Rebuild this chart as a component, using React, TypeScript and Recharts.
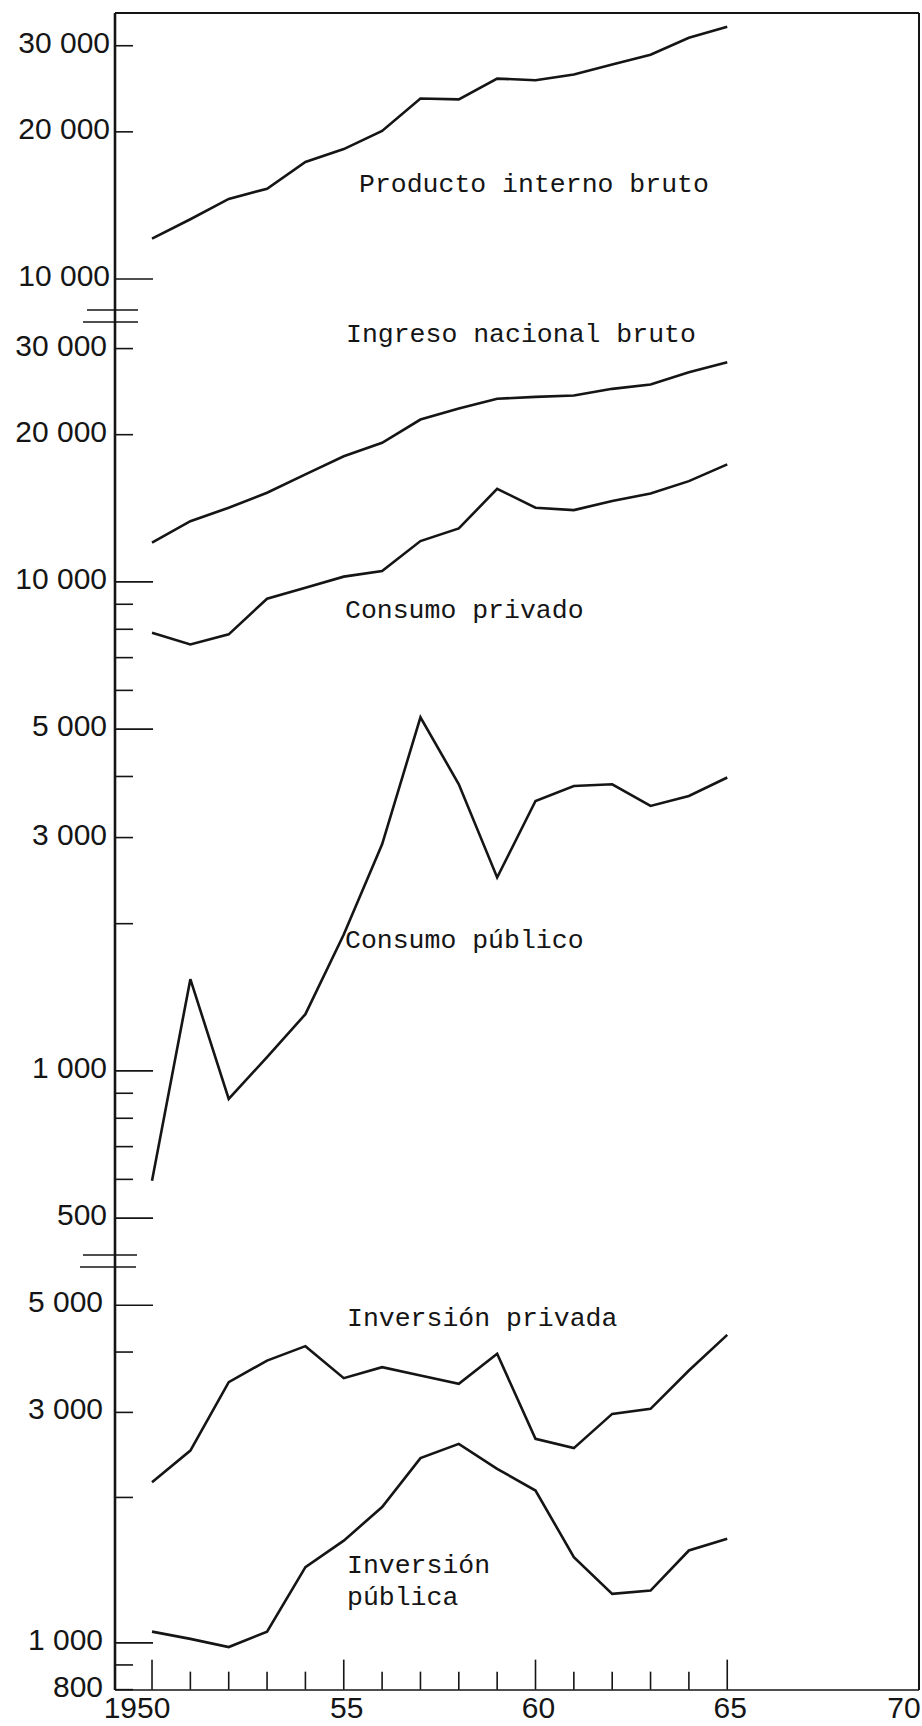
import { Line, LineChart, XAxis, YAxis } from 'recharts';

// years on the x axis
const YEARS = [1950, 1951, 1952, 1953, 1954, 1955, 1956, 1957, 1958, 1959, 1960, 1961, 1962, 1963, 1964, 1965];

// series (millones)
const PIB = [12100, 13250, 14580, 15300, 17350, 18440, 20090, 23400, 23300, 25700, 25500, 26200, 27450, 28760, 31150, 32800];
const INGRESO = [12030, 13310, 14180, 15220, 16590, 18070, 19250, 21480, 22620, 23680, 23900, 24050, 24820, 25330, 26840, 28130];
const CONSUMO_PRIVADO = [7870, 7450, 7810, 9240, 9730, 10250, 10520, 12120, 12860, 15500, 14180, 14020, 14630, 15160, 16070, 17390];
const CONSUMO_PUBLICO = [596, 1540, 876, 1067, 1306, 1900, 2907, 5285, 3856, 2486, 3565, 3826, 3856, 3482, 3650, 3980];
const INVERSION_PRIVADA = [2151, 2501, 3465, 3841, 4114, 3532, 3722, 3576, 3438, 3967, 2645, 2530, 2979, 3051, 3663, 4341];
const INVERSION_PUBLICA = [1055, 1019, 980, 1055, 1435, 1628, 1910, 2412, 2582, 2293, 2067, 1505, 1263, 1283, 1553, 1642];

// y ticks per panel
const TICKS_TOP = [10000, 20000, 30000];
const LABELS_TOP = [10000, 20000, 30000];
const TICKS_MID = [500, 600, 700, 800, 900, 1000, 2000, 3000, 4000, 5000, 6000, 7000, 8000, 9000, 10000, 20000, 30000];
const LABELS_MID = [500, 1000, 3000, 5000, 10000, 20000, 30000];
const TICKS_LOW = [800, 900, 1000, 2000, 3000, 4000, 5000];
const LABELS_LOW = [800, 1000, 3000, 5000];

// x ticks
const X_TICKS = [1950, 1951, 1952, 1953, 1954, 1955, 1956, 1957, 1958, 1959, 1960, 1961, 1962, 1963, 1964, 1965, 1970];
const X_LABEL_YEARS = [1950, 1955, 1960, 1965, 1970];
const X_LABEL_TEXT = ['1950', '55', '60', '65', '70'];

const LEFT = 115;
const RIGHT = 919;
const BOTTOM = 1690;
const X_MIN = 1949.035;
const X_MAX = 1970;
const INK = '#151515';

const fmt = (v: number) => (v >= 1000 ? `${Math.floor(v / 1000)} 000` : String(v));

function YTick(props: any) {
  const { y, payload, labels, longTicks, labelRight } = props;
  const v = payload.value;
  const len = longTicks.includes(v) ? 38 : 18;
  return (
    <g>
      <line x1={LEFT} x2={LEFT + len} y1={y} y2={y} stroke={INK} strokeWidth={1.6} />
      {labels.includes(v) && (
        <text x={labelRight} y={y + 7} textAnchor="end" fontFamily="Liberation Sans" fontSize={30} fill={INK}>
          {fmt(v)}
        </text>
      )}
    </g>
  );
}

function XTick(props: any) {
  const { x, payload, axisY } = props;
  const year = payload.value;
  const idx = X_LABEL_YEARS.indexOf(year);
  const major = year % 5 === 0;
  const dx = year === 1950 || year === 1970 ? -15 : 3;
  return (
    <g>
      {year <= 1965 && (
        <line x1={x} x2={x} y1={axisY} y2={axisY - (major ? 30 : 18)} stroke={INK} strokeWidth={1.6} />
      )}
      {idx >= 0 && (
        <text x={x + dx} y={axisY + 28} textAnchor="middle" fontFamily="Liberation Sans" fontSize={30} fill={INK}>
          {X_LABEL_TEXT[idx]}
        </text>
      )}
    </g>
  );
}

interface PanelProps {
  top: number;
  domain: [number, number];
  perDecade: number;
  ticks: number[];
  labels: number[];
  longTicks: number[];
  labelRight: number;
  series: { key: string; values: number[] }[];
  showX?: boolean;
}

function Panel({ top, domain, perDecade, ticks, labels, longTicks, labelRight, series, showX }: PanelProps) {
  const plotH = perDecade * Math.log10(domain[1] / domain[0]);
  const axisH = showX ? 33 : 0;
  const data = YEARS.map((year, i) => {
    const row: Record<string, number> = { year };
    series.forEach((s) => (row[s.key] = s.values[i]));
    return row;
  });
  return (
    <div style={{ position: 'absolute', left: 0, top }}>
      <LineChart
        width={922}
        height={plotH + axisH}
        data={data}
        margin={{ top: 0, right: 922 - RIGHT, bottom: 0, left: 0 }}
        style={{ overflow: 'visible' }}
      >
        <XAxis
          dataKey="year"
          type="number"
          domain={[X_MIN, X_MAX]}
          allowDataOverflow
          hide={!showX}
          height={axisH}
          ticks={X_TICKS}
          interval={0}
          axisLine={false}
          tickLine={false}
          tick={(p: any) => <XTick {...p} axisY={plotH} />}
        />
        <YAxis
          type="number"
          scale="log"
          domain={domain}
          allowDataOverflow
          width={LEFT}
          ticks={ticks}
          interval={0}
          axisLine={false}
          tickLine={false}
          tick={(p: any) => <YTick {...p} labels={labels} longTicks={longTicks} labelRight={labelRight} />}
        />
        {series.map((s) => (
          <Line
            key={s.key}
            dataKey={s.key}
            type="linear"
            stroke={INK}
            strokeWidth={2.6}
            dot={false}
            isAnimationActive={false}
          />
        ))}
      </LineChart>
    </div>
  );
}

const mono = { fontFamily: 'Liberation Mono, monospace', fontSize: 26.5, fill: INK };

export default function App() {
  return (
    <div style={{ position: 'absolute', left: 0, top: 0, width: 922, height: 1726, overflow: 'hidden', background: '#fff' }}>
      <Panel
        top={13}
        domain={[8700, 35000]}
        perDecade={489}
        ticks={TICKS_TOP}
        labels={LABELS_TOP}
        longTicks={[10000]}
        labelRight={110}
        series={[{ key: 'pib', values: PIB }]}
      />
      <Panel
        top={322}
        domain={[420, 34000]}
        perDecade={489}
        ticks={TICKS_MID}
        labels={LABELS_MID}
        longTicks={[500, 1000, 5000, 10000]}
        labelRight={107}
        series={[
          { key: 'ingreso', values: INGRESO },
          { key: 'cprivado', values: CONSUMO_PRIVADO },
          { key: 'cpublico', values: CONSUMO_PUBLICO },
        ]}
      />
      <Panel
        top={1267}
        domain={[800, 6000]}
        perDecade={483}
        ticks={TICKS_LOW}
        labels={LABELS_LOW}
        longTicks={[1000, 5000]}
        labelRight={103}
        series={[
          { key: 'iprivada', values: INVERSION_PRIVADA },
          { key: 'ipublica', values: INVERSION_PUBLICA },
        ]}
        showX
      />
      {/* frame, axis breaks and series names */}
      <svg width={922} height={1726} style={{ position: 'absolute', left: 0, top: 0, pointerEvents: 'none' }}>
        <line x1={LEFT} x2={LEFT} y1={13} y2={BOTTOM} stroke={INK} strokeWidth={2.6} />
        <line x1={RIGHT} x2={RIGHT} y1={13} y2={BOTTOM} stroke={INK} strokeWidth={2} />
        <line x1={LEFT} x2={RIGHT} y1={13} y2={13} stroke={INK} strokeWidth={2} />
        <line x1={LEFT} x2={RIGHT} y1={BOTTOM} y2={BOTTOM} stroke={INK} strokeWidth={1.6} />
        <line x1={87} x2={138} y1={310} y2={310} stroke={INK} strokeWidth={1.5} />
        <line x1={83} x2={138} y1={322} y2={322} stroke={INK} strokeWidth={1.5} />
        <line x1={83} x2={137} y1={1255} y2={1255} stroke={INK} strokeWidth={1.5} />
        <line x1={80} x2={136} y1={1267} y2={1267} stroke={INK} strokeWidth={1.5} />
        <text x={359} y={192} {...mono}>Producto interno bruto</text>
        <text x={346} y={342} {...mono}>Ingreso nacional bruto</text>
        <text x={345} y={618} {...mono}>Consumo privado</text>
        <text x={345} y={948} {...mono}>Consumo público</text>
        <text x={347} y={1326} {...mono}>Inversión privada</text>
        <text x={347} y={1573} {...mono}>Inversión</text>
        <text x={347} y={1605} {...mono}>pública</text>
      </svg>
    </div>
  );
}
